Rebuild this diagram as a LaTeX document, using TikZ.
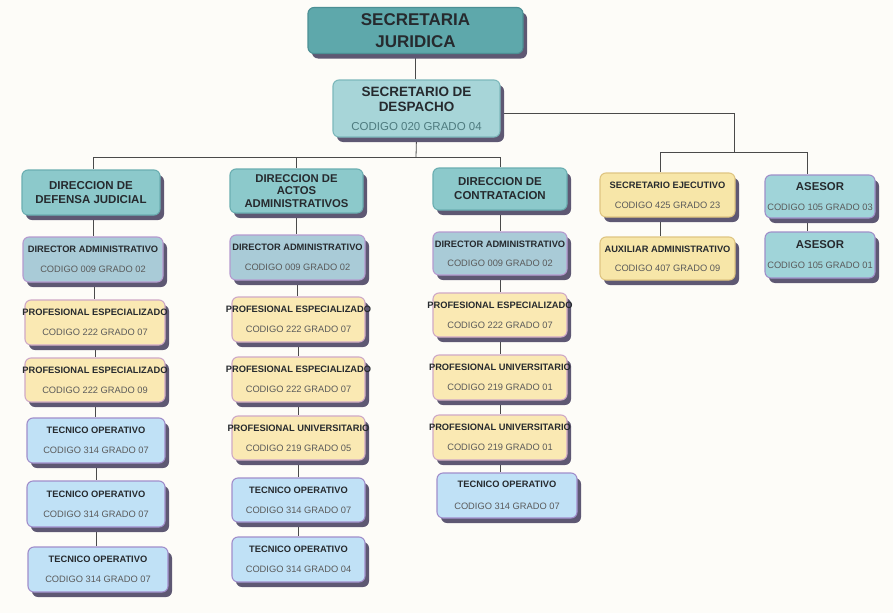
\documentclass[tikz,border=0pt]{standalone}
\usepackage{fontspec}
\setmainfont{Liberation Sans}
\usetikzlibrary{shadows,backgrounds}
\definecolor{bgc}{HTML}{FDFCF8}
\definecolor{linec}{HTML}{4A4A4A}
\definecolor{shadowc}{HTML}{5E5873}
\definecolor{titlec}{HTML}{262A2E}
\definecolor{codec}{HTML}{5A5A5A}
\definecolor{topfill}{HTML}{5EA8AB}
\definecolor{topdraw}{HTML}{4C8F94}
\definecolor{despfill}{HTML}{A7D5D8}
\definecolor{despdraw}{HTML}{7DB8BB}
\definecolor{headfill}{HTML}{8CC9CB}
\definecolor{headdraw}{HTML}{6BAEB1}
\definecolor{dirfill}{HTML}{A9CBD7}
\definecolor{dirdraw}{HTML}{B59ACF}
\definecolor{proffill}{HTML}{FAE9B3}
\definecolor{profdraw}{HTML}{CFA9C6}
\definecolor{tecfill}{HTML}{C0E1F6}
\definecolor{tecdraw}{HTML}{A08ECB}
\definecolor{sefill}{HTML}{F7E6A8}
\definecolor{sedraw}{HTML}{DFC582}
\definecolor{asfill}{HTML}{A0D4D9}
\definecolor{asdraw}{HTML}{9F8FC9}
\newcommand\bxt[1]{{\bfseries\color{titlec}#1}}
\newcommand\bxw[1]{\makebox[0pt][c]{\bfseries\color{titlec}#1}}
\newcommand\bxc[1]{{\color{codec}#1}}
\tikzset{
  orgbox/.style={rounded corners=6pt, line width=1.1pt, inner sep=0pt, align=center,
    node font=\fontsize{9.3}{11}\selectfont,
    drop shadow={shadow xshift=4pt, shadow yshift=-5pt, fill=shadowc, opacity=1}},
  topbox/.style={orgbox, fill=topfill, draw=topdraw, node font=\fontsize{17}{22}\selectfont},
  despbox/.style={orgbox, fill=despfill, draw=despdraw, node font=\fontsize{13.5}{15}\selectfont},
  headbox/.style={orgbox, fill=headfill, draw=headdraw, node font=\fontsize{11.5}{14}\selectfont},
  dirbox/.style={orgbox, fill=dirfill, draw=dirdraw},
  profbox/.style={orgbox, fill=proffill, draw=profdraw},
  tecbox/.style={orgbox, fill=tecfill, draw=tecdraw},
  sebox/.style={orgbox, fill=sefill, draw=sedraw},
  asbox/.style={orgbox, fill=asfill, draw=asdraw},
  conn/.style={draw=linec, line width=0.8pt}
}
\begin{document}
\begin{tikzpicture}[x=1pt,y=-1pt]
\begin{pgfonlayer}{background}
\fill[bgc] (0,0) rectangle (893,613);
\end{pgfonlayer}
\useasboundingbox (0,0) rectangle (893,613);

% top
\node[topbox, minimum width=215pt, minimum height=46pt] (top) at (415.5,30.5) {\bxt{SECRETARIA}\\\bxt{JURIDICA}};
\node[despbox, minimum width=167pt, minimum height=57pt] (desp) at (416.5,108.5)
  {\bxt{SECRETARIO DE}\\\bxt{DESPACHO}\\[4pt]{\fontsize{11.5}{13}\selectfont\color[HTML]{4E7B7F}CODIGO 020 GRADO 04}};

% column 1
\node[headbox, minimum width=138pt, minimum height=45pt] (h1) at (91,192.5) {\bxt{DIRECCION DE}\\\bxt{DEFENSA JUDICIAL}};
\node[dirbox, minimum width=140pt, minimum height=45pt] (d1) at (93,259.5) {\bxw{DIRECTOR ADMINISTRATIVO}\\[9pt]\bxc{CODIGO 009 GRADO 02}};
\node[profbox, minimum width=140pt, minimum height=45pt] (p11) at (95,322.5) {\bxw{PROFESIONAL ESPECIALIZADO}\\[9pt]\bxc{CODIGO 222 GRADO 07}};
\node[profbox, minimum width=140pt, minimum height=44pt] (p12) at (95,380) {\bxw{PROFESIONAL ESPECIALIZADO}\\[9pt]\bxc{CODIGO 222 GRADO 09}};
\node[tecbox, minimum width=138pt, minimum height=45pt] (t11) at (96,440.5) {\bxt{TECNICO OPERATIVO}\\[9pt]\bxc{CODIGO 314 GRADO 07}};
\node[tecbox, minimum width=138pt, minimum height=46pt] (t12) at (96,504) {\bxt{TECNICO OPERATIVO}\\[9pt]\bxc{CODIGO 314 GRADO 07}};
\node[tecbox, minimum width=140pt, minimum height=45pt] (t13) at (98,569.5) {\bxt{TECNICO OPERATIVO}\\[9pt]\bxc{CODIGO 314 GRADO 07}};

% column 2
\node[headbox, minimum width=133pt, minimum height=44pt, node font=\fontsize{11.3}{12.5}\selectfont] (h2) at (296.5,191) {\bxt{DIRECCION DE}\\\bxt{ACTOS}\\\bxt{ADMINISTRATIVOS}};
\node[dirbox, minimum width=135pt, minimum height=45pt] (d2) at (297.5,257.5) {\bxw{DIRECTOR ADMINISTRATIVO}\\[9pt]\bxc{CODIGO 009 GRADO 02}};
\node[profbox, minimum width=133pt, minimum height=45pt] (p21) at (298.5,319.5) {\bxw{PROFESIONAL ESPECIALIZADO}\\[9pt]\bxc{CODIGO 222 GRADO 07}};
\node[profbox, minimum width=133pt, minimum height=45pt] (p22) at (298.5,379.5) {\bxw{PROFESIONAL ESPECIALIZADO}\\[9pt]\bxc{CODIGO 222 GRADO 07}};
\node[profbox, minimum width=133pt, minimum height=44pt] (p23) at (298.5,438) {\bxw{PROFESIONAL UNIVERSITARIO}\\[9pt]\bxc{CODIGO 219 GRADO 05}};
\node[tecbox, minimum width=133pt, minimum height=44pt] (t21) at (298.5,500) {\bxt{TECNICO OPERATIVO}\\[9pt]\bxc{CODIGO 314 GRADO 07}};
\node[tecbox, minimum width=133pt, minimum height=45pt] (t22) at (298.5,559.5) {\bxt{TECNICO OPERATIVO}\\[9pt]\bxc{CODIGO 314 GRADO 04}};

% column 3
\node[headbox, minimum width=134pt, minimum height=42pt] (h3) at (500,189) {\bxt{DIRECCION DE}\\\bxt{CONTRATACION}};
\node[dirbox, minimum width=134pt, minimum height=43pt] (d3) at (500,253.5) {\bxw{DIRECTOR ADMINISTRATIVO}\\[8pt]\bxc{CODIGO 009 GRADO 02}};
\node[profbox, minimum width=134pt, minimum height=44pt] (p31) at (500,315) {\bxw{PROFESIONAL ESPECIALIZADO}\\[9pt]\bxc{CODIGO 222 GRADO 07}};
\node[profbox, minimum width=134pt, minimum height=45pt] (p32) at (500,377.5) {\bxw{PROFESIONAL UNIVERSITARIO}\\[9pt]\bxc{CODIGO 219 GRADO 01}};
\node[profbox, minimum width=134pt, minimum height=45pt] (p33) at (500,437.5) {\bxw{PROFESIONAL UNIVERSITARIO}\\[9pt]\bxc{CODIGO 219 GRADO 01}};
\node[tecbox, minimum width=140pt, minimum height=45pt] (t31) at (507,495.5) {\bxt{TECNICO OPERATIVO}\\[11pt]\bxc{CODIGO 314 GRADO 07}};

% right side
\node[sebox, minimum width=135pt, minimum height=44pt] (se) at (667.5,195) {\bxt{SECRETARIO EJECUTIVO}\\[9pt]\bxc{CODIGO 425 GRADO 23}};
\node[sebox, minimum width=135pt, minimum height=43pt] (aux) at (667.5,258.5) {\bxt{AUXILIAR ADMINISTRATIVO}\\[8pt]\bxc{CODIGO 407 GRADO 09}};
\node[asbox, minimum width=110pt, minimum height=43pt] (as1) at (820,196.5) {\fontsize{11.4}{13}\selectfont\bxt{ASESOR}\\[9pt]\bxc{CODIGO 105 GRADO 03}};
\node[asbox, minimum width=110pt, minimum height=46pt] (as2) at (820,255) {\fontsize{11.4}{13}\selectfont\bxt{ASESOR}\\[9pt]\bxc{CODIGO 105 GRADO 01}};

% connectors
\coordinate (bL) at (93,157);
\coordinate (bM) at (296,157);
\coordinate (bR) at (500,157);
\coordinate (bD) at (416,157);
\coordinate (rA) at (734,152);
\coordinate (rL) at (660,152);
\coordinate (rR) at (807,152);
\begin{pgfonlayer}{background}
\draw[conn] (top.south) -- (top.south |- desp.north);
\draw[conn] (desp.south) -- (bD);
\draw[conn] (bL) -- (bR);
\draw[conn] (bL) -- (bL |- h1.north);
\draw[conn] (bM) -- (bM |- h2.north);
\draw[conn] (bR) -- (bR |- h3.north);
\draw[conn] ([yshift=-4.5pt]desp.east) -| (rA);
\draw[conn] (rL) -- (rR);
\draw[conn] (rL) -- (rL |- se.north);
\draw[conn] (rR) -- (rR |- as1.north);
\draw[conn] (rL |- se.south) -- (rL |- aux.north);
\draw[conn] (rR |- as1.south) -- (rR |- as2.north);
% column 1
\draw[conn] (bL |- h1.south) -- (bL |- d1.north);
\draw[conn] ([xshift=1pt]d1.south) -- ([xshift=1pt]d1.south |- p11.north);
\draw[conn] (p11.south) -- (p11.south |- p12.north);
\draw[conn] (t11.south) -- (t11.south |- t12.north);
\draw[conn] (p12.south) -- (p12.south |- t11.north);
\draw[conn] (t12.south) -- (t12.south |- t13.north);
% column 2
\draw[conn] (bM |- h2.south) -- (bM |- d2.north);
\draw[conn] (d2.south) -- (d2.south |- p21.north);
\draw[conn] (p21.south) -- (p21.south |- p22.north);
\draw[conn] (p22.south) -- (p22.south |- p23.north);
\draw[conn] (p23.south) -- (p23.south |- t21.north);
\draw[conn] (t21.south) -- (t21.south |- t22.north);
% column 3
\draw[conn] (h3.south) -- (h3.south |- d3.north);
\draw[conn] (d3.south) -- (d3.south |- p31.north);
\draw[conn] (p31.south) -- (p31.south |- p32.north);
\draw[conn] (p32.south) -- (p32.south |- p33.north);
\draw[conn] (p33.south) -- (p33.south |- t31.north);
\end{pgfonlayer}
\end{tikzpicture}
\end{document}
